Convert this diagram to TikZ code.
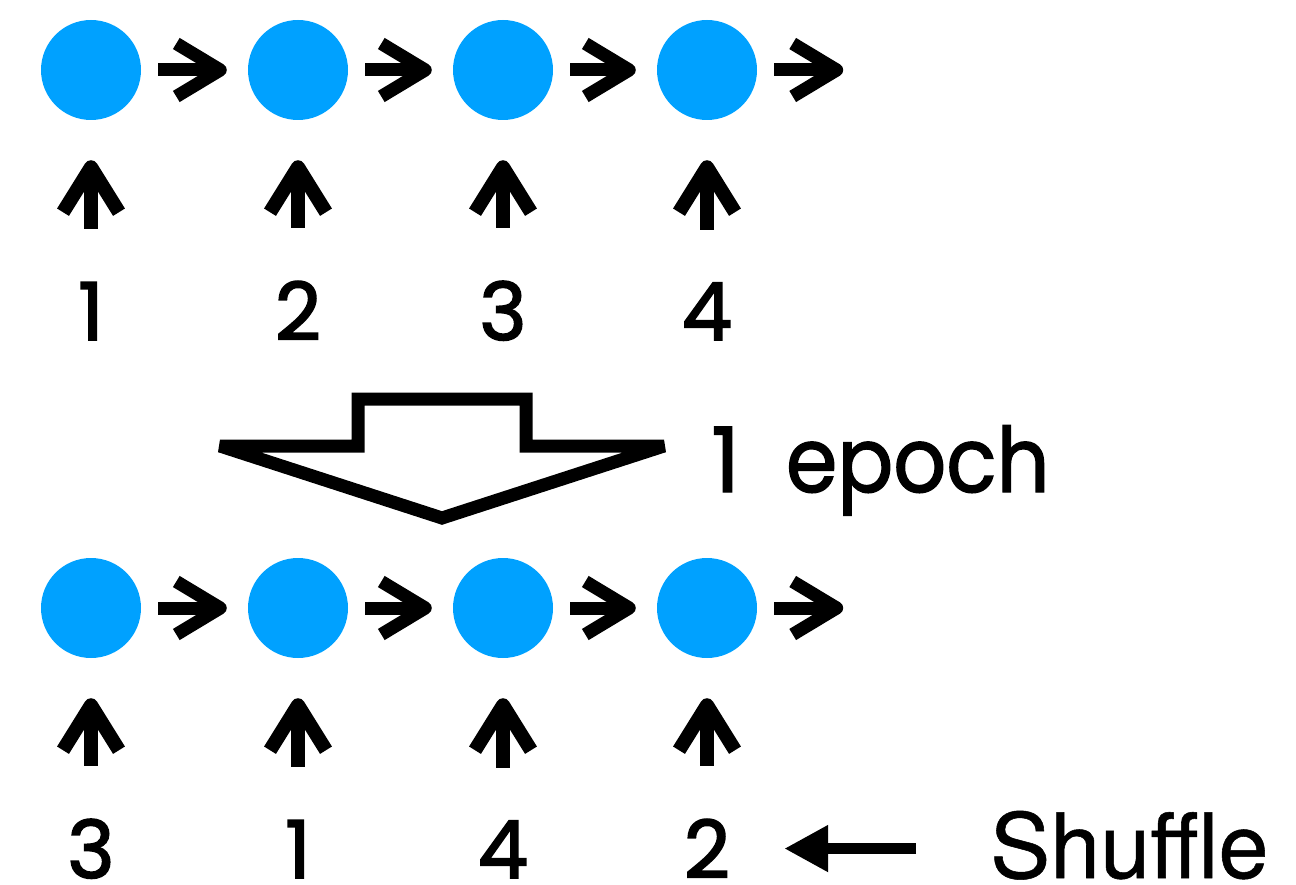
\documentclass[tikz,border=0pt]{standalone}
\usepackage{fontspec}
\setmainfont{Poppins}
\newfontfamily\digfont{Poppins}[FakeBold=2.2]
\newfontfamily\epfont{Poppins}[FakeBold=1.6]
\newfontfamily\shufffont{TeX Gyre Heros}[FakeBold=0.6]
\usetikzlibrary{arrows.meta}
\definecolor{dotblue}{RGB}{0,161,255}
\begin{document}
\begin{tikzpicture}[x=1pt,y=-1pt,
  dot/.style={circle,fill=dotblue,minimum size=100pt,inner sep=0pt},
  num/.style={font=\digfont\fontsize{80}{80}\selectfont,inner sep=0pt,anchor=base},
  harrow/.style={line width=13pt,-{Straight Barb[length=44pt,width=53pt,line cap=butt,line join=round]}},
  varrow/.style={line width=14pt,-{Straight Barb[length=45pt,width=56pt,line cap=butt,line join=round]}},
  larrow/.style={line width=11pt,-{Triangle[length=44pt,width=44pt]}},
  bigarrow/.style={line width=13pt,line join=miter,miter limit=4}
]
\useasboundingbox (0,0) rectangle (1296,885);
\foreach \i/\x in {1/91,2/298,3/503,4/707}{
  \node[dot] (t\i) at (\x,70) {};
  \node[dot] (b\i) at (\x,608) {};
}
\node[num] (tn1) at (91,340) {1};
\node[num] (tn2) at (298,340) {2};
\node[num] (tn3) at (503,340) {3};
\node[num] (tn4) at (707,340) {4};
\node[num] (bn1) at (91,878) {3};
\node[num] (bn2) at (298,878) {1};
\node[num] (bn3) at (503,878) {4};
\node[num] (bn4) at (707,878) {2};
\foreach \r in {t,b}{
  \draw[harrow] ([xshift=17pt]\r1.east) -- ([xshift=-21pt]\r2.west);
  \draw[harrow] ([xshift=17pt]\r2.east) -- ([xshift=-21pt]\r3.west);
  \draw[harrow] ([xshift=17pt]\r3.east) -- ([xshift=-21pt]\r4.west);
  \draw[harrow] ([xshift=17pt]\r4.east) -- ++(69,0);
  \foreach \i in {1,2,3,4}{
    \draw[varrow] ([yshift=53pt]\r n\i.north) -- ([yshift=-40pt]\r\i.south);
  }
}
\draw[bigarrow] (220,446) -- (358,446) -- (358,399) -- (526,399) -- (526,446) -- (664,446) -- (442,518) -- cycle;
\node[font=\epfont\fontsize{90}{90}\selectfont,inner sep=0pt,anchor=base west] (epoch) at (711,492) {1\hspace{46pt}\scalebox{0.92}[1]{epoch}};
\node[font=\shufffont\fontsize{90}{90}\selectfont,inner sep=0pt,anchor=base west] (shuf) at (990,878) {Shuffle};
\path (shuf.west) ++(-74,0) coordinate (sa);
\draw[larrow] (sa |- bn4.east) -- ([xshift=54pt]bn4.east);
\end{tikzpicture}
\end{document}
